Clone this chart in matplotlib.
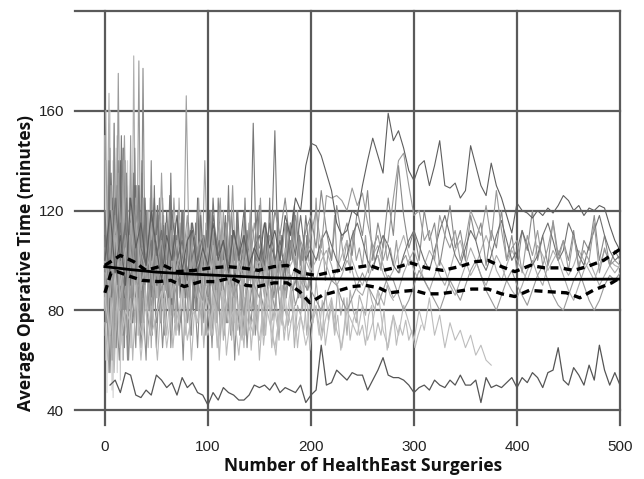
import numpy as np
import matplotlib
matplotlib.use("Agg")
import matplotlib.pyplot as plt

# ---------------- data ----------------
# long series, x = surgery number, sampled every 5 surgeries
bottom_start = 5
bottom_y = [50, 52, 47, 55, 54, 46, 45, 48, 46, 54, 52, 49, 51, 46, 53, 49, 51, 47, 46, 42,
            47, 44, 49, 47, 46, 44, 44, 46, 50, 49, 50, 48, 51, 47, 49, 48, 47, 50, 43, 46,
            48, 66, 50, 51, 56, 54, 52, 55, 54, 54, 48, 52, 56, 61, 54, 53, 53, 52, 50, 47,
            49, 50, 48, 52, 50, 49, 52, 50, 54, 50, 50, 52, 43, 53, 49, 50, 49, 51, 53, 49,
            53, 51, 55, 53, 49, 55, 56, 65, 52, 50, 57, 54, 50, 58, 52, 66, 56, 50, 55, 50]

dark_peak_start = 0
dark_peak_y = [100, 120, 95, 110, 90, 125, 105, 115, 98, 120, 105, 92, 110, 100, 118, 96, 108, 112, 95, 105,
               98, 115, 100, 108, 95, 112, 102, 110, 98, 105, 100, 115, 105, 112, 100, 118, 110, 125, 120, 138,
               147, 146, 142, 135, 128, 115, 110, 112, 120, 118, 130, 140, 149, 142, 135, 159, 148, 152, 145, 136,
               132, 138, 140, 130, 138, 148, 130, 129, 131, 125, 128, 146, 138, 130, 126, 139, 130, 125, 118, 111,
               123, 120, 119, 117, 120, 118, 121, 119, 122, 126, 124, 120, 122, 118, 121, 120, 122, 121, 114, 108, 104]

mid_start = 0
mid_y = [105, 90, 118, 95, 110, 85, 122, 100, 92, 115, 98, 108, 88, 112, 100, 95, 118, 90, 105, 110,
         96, 112, 90, 104, 118, 95, 108, 100, 92, 115, 102, 96, 110, 88, 106, 100, 114, 95, 108, 102,
         110, 120, 105, 126, 125, 126, 124, 120, 129, 122, 127, 115, 105, 110, 100, 108, 125, 140, 143, 130,
         118, 120, 108, 112, 100, 118, 110, 105, 112, 100, 108, 120, 115, 110, 122, 108, 128, 112, 100, 105,
         108, 95, 110, 102, 112, 98, 105, 115, 100, 108, 96, 110, 98, 104, 100, 115, 95, 105, 98, 100, 98]

light_a_start = 0
light_a_y = [95, 90, 110, 85, 100, 120, 88, 105, 95, 80, 100, 92, 110, 85, 98, 105, 90, 100, 85, 95,
             105, 88, 98, 110, 92, 85, 100, 95, 108, 90, 98, 85, 102, 95, 88, 105, 92, 98, 85, 100,
             95, 92, 100, 104, 98, 90, 94, 100, 96, 88, 86, 92, 98, 102, 95, 90, 85, 88, 95, 100,
             104, 98, 92, 88, 94, 100, 96, 90, 86, 92, 98, 105, 100, 94, 90, 96, 102, 98, 92, 88,
             85, 90, 96, 100, 94, 90, 98, 104, 100, 94, 88, 84, 90, 96, 100, 95, 90, 94, 98, 95, 98]

low_light_start = 0
low_light_y = [85, 70, 95, 65, 80, 75, 90, 60, 85, 70, 78, 88, 65, 82, 72, 90, 68, 80, 75, 85,
               70, 82, 65, 88, 75, 80, 62, 85, 72, 78, 68, 85, 75, 65, 80, 72, 88, 70, 78, 66,
               75, 82, 68, 78, 85, 72, 65, 80, 75, 70, 82, 68, 75, 88, 72, 65, 78, 70, 82, 75,
               68, 80, 72, 85, 70, 78, 65, 75, 68, 72, 65, 70, 62, 66, 60, 58]

grey_b_start = 0
grey_b_y = [90, 105, 80, 98, 85, 110, 92, 88, 100, 82, 95, 88, 102, 78, 92, 96, 85, 100, 90, 84,
            98, 88, 80, 95, 102, 86, 92, 78, 96, 90, 85, 98, 92, 80, 100, 88, 94, 82, 90, 96,
            88, 84, 80, 86, 92, 90, 84, 80, 85, 90, 95, 90, 86, 82, 88, 94, 92, 86, 80, 84,
            90, 96, 92, 88, 84, 80, 86, 92, 88, 84, 90, 96, 100, 94, 88, 84, 80, 86, 92, 96,
            90, 86, 82, 88, 94, 98, 92, 86, 82, 80, 86, 92, 96, 90, 84, 80, 84, 90, 94, 92, 95]

dark_c_start = 0
dark_c_y = [110, 95, 125, 100, 115, 90, 120, 105, 98, 118, 102, 112, 95, 120, 100, 108, 92, 115, 100, 110,
            95, 118, 102, 108, 98, 112, 100, 120, 95, 105, 110, 98, 115, 100, 108, 95, 112, 102, 118, 100,
            105, 100, 108, 112, 106, 100, 96, 102, 110, 115, 108, 100, 96, 104, 110, 106, 98, 95, 102, 108,
            112, 106, 100, 96, 104, 112, 118, 110, 102, 98, 105, 112, 108, 100, 96, 102, 110, 116, 108, 100,
            104, 112, 106, 98, 102, 110, 115, 108, 100, 104, 115, 110, 102, 98, 106, 112, 118, 110, 104, 100, 102]

light_d_start = 0
light_d_y = [100, 85, 115, 90, 105, 95, 120, 88, 102, 96, 110, 90, 100, 85, 108, 95, 112, 92, 98, 104,
             90, 106, 95, 100, 88, 110, 98, 92, 104, 96, 100, 88, 106, 94, 110, 92, 98, 102, 90, 105,
             96, 100, 104, 98, 92, 96, 102, 108, 100, 94, 90, 96, 102, 106, 98, 92, 96, 104, 110, 102,
             96, 92, 98, 104, 100, 94, 90, 96, 104, 108, 100, 94, 98, 104, 110, 104, 96, 92, 98, 104,
             100, 96, 92, 98, 106, 102, 96, 100, 104, 98, 94, 98, 104, 100, 96, 92, 98, 104, 100, 98, 97]

grey_e_start = 150
grey_e_y = [105, 115, 100, 120, 110, 125, 105, 118, 100, 112, 118, 105, 128, 112, 100, 122, 108, 115, 102, 120,
            110, 128, 100, 115, 105, 125, 110, 138, 118, 105, 112, 100, 120, 108, 115, 98, 110, 122, 105, 112,
            100, 118, 108, 115, 98, 112, 105, 120, 100, 110, 96, 112, 104, 120, 100, 110, 98, 116, 102, 108,
            100, 112, 96, 108, 104, 118, 100, 110, 98, 104, 100]

# short early series (sampled every 1 or 2 surgeries)
early1_start = 1
early1_y = [160, 90, 140, 75, 155, 85, 130, 70, 145, 95, 120, 80, 135, 90, 115, 75, 125, 85, 110, 95,
            120, 80, 105, 90, 115, 85, 100, 80, 110, 90]
early2_start = 2
early2_y = [100, 167, 80, 130, 70, 150, 95, 110, 60, 140, 85, 120, 75, 182, 90, 125, 70, 135, 100, 115,
            80, 125, 95, 105, 85, 118, 78, 110, 92, 100, 80]
early3_start = 3
early3_y = [90, 145, 60, 120, 80, 175, 95, 110, 70, 130, 85, 150, 75, 115, 90, 180, 80, 125, 100, 108,
            85, 130, 90, 112, 95, 105, 80, 118, 88, 102]
early4_start = 5
early4_y = [110, 70, 155, 95, 140, 80, 125, 65, 135, 100, 118, 85, 145, 90, 130, 75, 177, 95, 120, 80,
            140, 90, 110, 100, 125, 88, 115, 95, 105, 90, 120, 85]
early5_start = 0
early5_y = [150, 60, 130, 70, 155, 80, 120, 48, 140, 90, 110, 65, 135, 75, 125, 52, 115, 85, 145, 70,
            105, 90, 130, 75, 120, 65, 110, 95, 125, 80, 100, 70, 115, 85, 105, 75, 120, 90, 100, 80]
early6_start = 0
early6_y = [80, 140, 47, 120, 95, 160, 70, 110, 45, 130, 85, 145, 55, 100, 115, 75, 135, 60, 125, 90,
            105, 70, 140, 85, 95, 110, 65, 120, 80, 100, 90, 115, 70, 105, 95, 85, 110, 75, 100, 90]
early7_start = 0
early7_y = [120, 75, 140, 90, 110, 65, 130, 85, 150, 95, 105, 70, 125, 100, 135, 80, 115, 90, 140, 75,
            120, 95, 105, 85, 130, 90, 110, 75, 125, 95, 100, 85, 135, 90, 115, 80, 105, 95, 120, 85,
            110, 90, 100, 80, 115, 95, 105, 85, 110, 90]
early8_start = 1
early8_y = [90, 115, 70, 125, 95, 105, 80, 140, 100, 85, 120, 95, 110, 75, 130, 100, 90, 115, 85, 125,
            95, 105, 80, 110, 100, 120, 90, 105, 85, 115, 95, 100, 80, 110, 90, 120, 85, 105, 95, 100,
            88, 112, 92, 105, 80, 115, 95, 100, 90, 110, 85, 105, 95, 100, 92, 108, 88, 102, 96, 100]
early9_start = 0
early9_y = [70, 90, 55, 85, 65, 100, 75, 60, 95, 70, 85, 60, 90, 75, 80, 65, 95, 70, 85, 75,
            60, 90, 80, 70, 95, 65, 85, 75, 90, 70, 80, 95, 65, 85, 75, 90, 70, 80, 60, 85,
            75, 90, 70, 95, 80, 65, 85, 75, 90, 70, 80, 85, 65, 90, 75, 95, 70, 85, 80, 75,
            90, 70, 85, 60, 80, 75, 90, 70, 85, 65, 80, 75, 88, 70, 82]
early10_start = 100
early10_y = [95, 120, 100, 110, 85, 125, 105, 90, 115, 100, 130, 95, 110, 85, 120, 100, 105, 90, 125, 95,
             115, 100, 85, 110, 120, 95, 105, 90, 115, 100, 125, 90, 105, 95, 120, 100, 110, 85, 115, 95,
             108, 100, 122, 90, 112, 98, 105, 92, 110, 100]
early11_start = 80
early11_y = [85, 105, 75, 95, 110, 80, 100, 70, 90, 115, 85, 95, 75, 105, 90, 80, 110, 95, 70, 100,
             85, 95, 105, 75, 90, 100, 80, 95, 110, 85, 75, 100, 90, 80, 105, 95, 85, 70, 100, 90,
             95, 80, 110, 85, 90, 100, 75, 95, 85, 105, 90, 80, 95, 100, 85, 90, 80, 95, 88, 92]

# medium-length series (sampled every 3 surgeries)
med1_start = 0
med1_y = [120, 95, 135, 85, 125, 100, 145, 90, 115, 105, 130, 85, 120, 95, 110, 100, 125, 90, 115, 85,
          120, 95, 105, 110, 90, 120, 100, 95, 115, 85, 125, 95, 110, 100, 120, 90, 105, 115, 95, 110,
          100, 120, 90, 105, 95, 110, 100, 115, 90, 105, 95, 100, 110, 90, 105, 100, 95, 110, 90, 100, 115]
med2_start = 0
med2_y = [100, 70, 130, 60, 115, 80, 140, 75, 110, 85, 125, 70, 105, 90, 120, 65, 110, 95, 100, 75,
          115, 85, 105, 70, 125, 90, 100, 80, 110, 95, 85, 120, 75, 105, 90, 100, 80, 115, 95, 85,
          105, 75, 110, 90, 100, 80, 95, 120, 85, 100, 90]
med3_start = 2
med3_y = [80, 55, 95, 65, 100, 70, 85, 60, 90, 75, 105, 65, 95, 80, 70, 100, 75, 90, 65, 85,
          95, 70, 100, 80, 75, 95, 85, 70, 90, 80, 100, 75, 85, 95, 70, 90, 80, 100, 85, 75,
          95, 80, 90, 70, 85, 100, 80, 90, 75, 95, 85, 80, 90, 100, 85, 95, 80, 90, 85, 95,
          88, 92, 85, 95, 90, 88, 94]
med4_start = 1
med4_y = [140, 90, 120, 75, 135, 100, 150, 85, 115, 95, 130, 80, 125, 100, 110, 90, 120, 85, 135, 95,
          105, 90, 125, 100, 115, 85, 166, 95, 110, 100, 125, 90, 140, 95, 115, 100, 108, 92, 120, 95, 112]
med5_start = 0
med5_y = [95, 110, 85, 120, 90, 115, 100, 125, 88, 112, 95, 130, 92, 118, 100, 108, 90, 122, 96, 114,
          88, 126, 100, 110, 94, 120, 85, 115, 100, 105, 92, 118, 98, 112, 90, 125, 102, 108, 95, 118,
          90, 110, 100, 120, 92, 98, 112, 95, 155, 100, 122, 90, 115, 96, 110, 152, 100, 100, 95, 115,
          100, 120, 95, 110, 100, 118, 105]
med6_start = 0
med6_y = [75, 60, 85, 55, 90, 65, 80, 70, 95, 60, 85, 75, 70, 90, 65, 85, 75, 60, 80, 90,
          70, 85, 65, 80, 75, 90, 70, 85, 60, 80, 75, 90, 65, 85, 78, 70, 88, 60, 82, 75,
          90, 68, 85, 72, 80, 65, 88, 75, 70, 85, 60, 78, 70, 88, 65, 80, 72, 85, 68, 80, 75]
med7_start = 100
med7_y = [100, 120, 95, 110, 125, 90, 115, 100, 130, 95, 110, 105, 120, 90, 115, 108, 100, 125, 95, 112,
          100, 118, 90, 110, 102, 115, 95, 108, 98, 120, 92, 110, 100, 115, 95, 125, 100, 110, 92, 105,
          100, 118, 95, 110, 100, 108, 95, 112, 100, 105, 98, 110, 95, 108, 100, 102, 96, 110, 100, 105,
          98, 108, 95, 100, 102, 98, 100]
med8_start = 100
med8_y = [85, 70, 90, 75, 95, 68, 82, 90, 72, 88, 78, 95, 70, 85, 80, 92, 75, 88, 70, 84,
          92, 76, 86, 68, 90, 80, 74, 88, 65, 82, 78, 90, 70, 85, 75, 92, 80, 70, 88, 76,
          84, 72, 90, 78, 85, 70, 88, 80, 75, 86, 82, 78, 90, 84, 80, 88, 85, 82, 90, 86, 84]
med9_start = 100
med9_y = [80, 70, 88, 65, 78, 85, 62, 75, 90, 70, 82, 68, 76, 88, 64, 80, 72, 86, 66, 78,
          84, 70, 62, 80, 74, 88, 68, 76, 82, 65, 78, 72, 86, 64, 76, 80, 70, 84, 66, 75,
          82, 70, 78, 64, 72, 85, 68, 76, 80, 70, 74, 66, 78, 82, 68, 75, 70, 80, 64, 72,
          78, 66, 74, 70, 76, 68, 72, 65, 70, 74]

# pooled trend and its confidence band
mean_x = [0, 25, 50, 75, 100, 125, 150, 175, 200, 250, 300, 350, 400, 450, 500]
mean_y = [97.5, 96.3, 95.3, 94.7, 94.2, 93.7, 93.2, 92.9, 92.6, 92.5, 92.5, 92.4, 92.4, 92.4, 92.5]
upper_x = [0, 15, 28, 40, 57, 70, 87, 103, 119, 133, 149, 164, 177, 190, 205, 221, 241, 257, 270,
           286, 297, 312, 328, 344, 360, 372, 385, 398, 413, 427, 442, 455, 468, 484, 500]
upper_y = [98, 102, 99.5, 96, 98, 95.5, 96, 97, 97.5, 97, 96, 97.5, 98, 95, 94, 95.5, 97, 98, 96,
           97.5, 99, 97, 96, 97.5, 99.5, 100, 97.5, 95.5, 98, 97, 97, 96, 97.5, 100, 104.5]
lower_x = [0, 6, 12, 25, 36, 52, 64, 77, 93, 108, 122, 137, 148, 164, 177, 189, 199, 211, 224, 240,
           253, 266, 276, 286, 300, 312, 325, 341, 356, 372, 385, 398, 412, 429, 448, 461, 474, 492, 500]
lower_y = [87, 95, 95.5, 93.5, 92, 91.5, 92, 89.5, 91.5, 91.5, 93, 90, 89.5, 91, 91, 87.5, 83, 86,
           87.5, 89.5, 90, 89, 87, 87.5, 88, 86.6, 86.6, 87.5, 88.5, 88.5, 86.6, 85.5, 88, 87.5, 87,
           85, 88, 91, 93]

x_ticks = [0, 100, 200, 300, 400, 500]
y_ticks = [40, 80, 120, 160]

# ---------------- plotting ----------------
fig = plt.figure(figsize=(6.44, 4.79), dpi=100)
ax = fig.add_axes([75 / 644, 1 - 425 / 479, 545 / 644, 414 / 479])
ax.set_xlim(-29, 500)
ax.set_ylim(34, 200)

grid_color = "#5a5a5a"
for xv in x_ticks:
    ax.axvline(xv, color=grid_color, lw=1.6, zorder=1, clip_on=False)
for yv in y_ticks + [200]:
    ax.axhline(yv, color=grid_color, lw=1.6, zorder=1, clip_on=False)


def draw(start, step, ys, color, lw=0.8, z=2):
    xs = start + step * np.arange(len(ys))
    ax.plot(xs, ys, color=color, lw=lw, zorder=z)


# early spiky series
draw(early5_start, 1, early5_y, "#c8c8c8")
draw(early6_start, 1, early6_y, "#d0d0d0")
draw(early1_start, 2, early1_y, "#c4c4c4")
draw(early2_start, 2, early2_y, "#b0b0b0")
draw(early3_start, 2, early3_y, "#9a9a9a")
draw(early4_start, 2, early4_y, "#8a8a8a")
draw(early7_start, 2, early7_y, "#7a7a7a")
draw(early8_start, 2, early8_y, "#6a6a6a")
draw(early9_start, 2, early9_y, "#8e8e8e")
draw(early10_start, 2, early10_y, "#7c7c7c")
draw(early11_start, 2, early11_y, "#a6a6a6")
# medium series
draw(med1_start, 3, med1_y, "#6e6e6e")
draw(med2_start, 3, med2_y, "#a8a8a8")
draw(med3_start, 3, med3_y, "#8c8c8c")
draw(med4_start, 3, med4_y, "#a0a0a0")
draw(med5_start, 3, med5_y, "#777777")
draw(med6_start, 3, med6_y, "#b8b8b8")
draw(med7_start, 3, med7_y, "#9c9c9c")
draw(med8_start, 3, med8_y, "#b0b0b0")
draw(med9_start, 3, med9_y, "#bbbbbb")
# long series
draw(light_a_start, 5, light_a_y, "#aaaaaa")
draw(low_light_start, 5, low_light_y, "#bdbdbd")
draw(grey_b_start, 5, grey_b_y, "#999999")
draw(light_d_start, 5, light_d_y, "#b0b0b0")
draw(grey_e_start, 5, grey_e_y, "#8a8a8a")
draw(dark_c_start, 5, dark_c_y, "#707070")
draw(mid_start, 5, mid_y, "#9a9a9a")
draw(dark_peak_start, 5, dark_peak_y, "#5e5e5e")
draw(bottom_start, 5, bottom_y, "#555555", lw=0.9)

# trend + band
ax.plot(mean_x, mean_y, color="black", lw=2.0, zorder=5)
ax.plot(upper_x, upper_y, color="black", lw=2.4, ls=(0, (2.4, 1.6)), zorder=5)
ax.plot(lower_x, lower_y, color="black", lw=2.4, ls=(0, (2.4, 1.6)), zorder=5)

for s in ax.spines.values():
    s.set_visible(False)
ax.set_xticks(x_ticks)
ax.set_yticks(y_ticks)
ax.tick_params(length=0, pad=8, labelsize=11, labelcolor="#222222")
for lab in ax.get_xticklabels() + ax.get_yticklabels():
    lab.set_fontfamily("Liberation Sans")
ax.tick_params(axis="x", pad=11)

fig.text(363.5 / 644, 1 - 466 / 479, "Number of HealthEast Surgeries", ha="center", va="center",
         fontsize=12.5, fontweight="bold", family="Open Sans", color="#111111")
fig.text(26 / 644, 1 - 263 / 479, "Average Operative Time (minutes)", ha="center", va="center",
         rotation=90, fontsize=12.5, fontweight="bold", family="Open Sans", color="#111111")

fig.savefig("out.png", dpi=100)
